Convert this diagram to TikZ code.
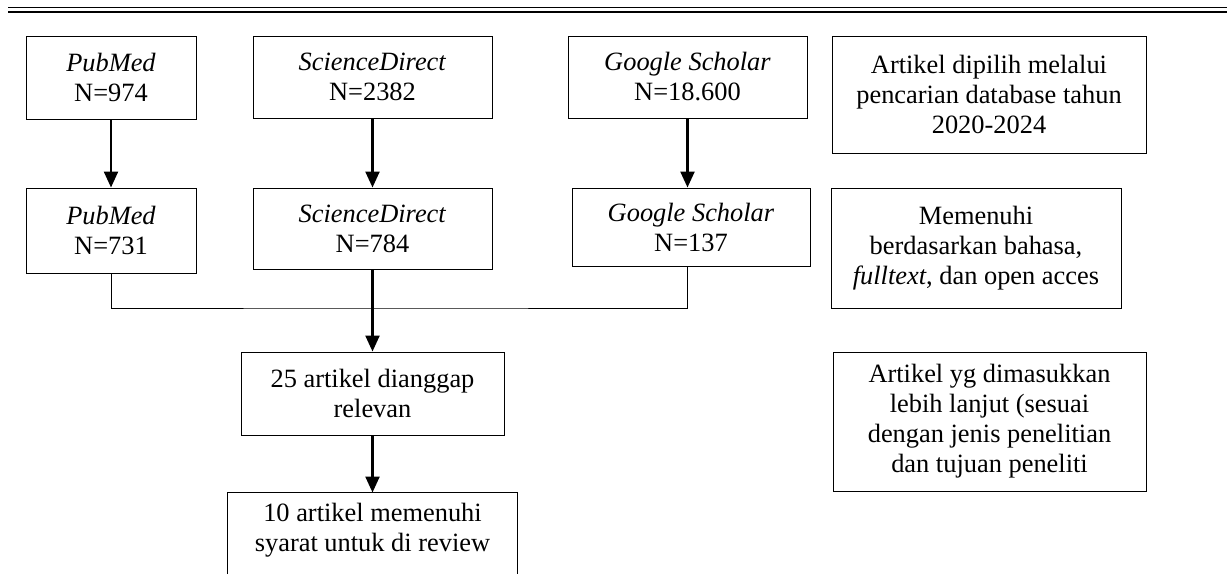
\documentclass[tikz,border=0pt]{standalone}
\usepackage{fontspec}
\setmainfont{Liberation Serif}
\usetikzlibrary{arrows.meta}
\begin{document}
\begin{tikzpicture}[x=0.5pt,y=-0.5pt,
  box/.style={draw,line width=0.5pt,align=center,inner sep=0pt,
    font=\fontsize{13.2}{15}\selectfont},
  arr/.style={line width=1.2pt,-{Triangle[width=7pt,length=8pt]}}]
\useasboundingbox (0,0) rectangle (1227,574);

\draw[line width=0.5pt] (8,7.5) -- (1227,7.5);
\draw[line width=1pt] (8,11.5) -- (1227,11.5);

\node[box,minimum width=85pt,minimum height=41.5pt] (pm1) at (111,77.5) {\textit{PubMed}\\N=974};
\node[box,minimum width=119.5pt,minimum height=41pt] (sd1) at (372.5,77) {\textit{ScienceDirect}\\N=2382};
\node[box,minimum width=119.5pt,minimum height=41pt] (gs1) at (687.5,77) {\textit{Google Scholar}\\N=18.600};
\node[box,minimum width=157pt,minimum height=58.5pt] (sel) at (989,94.5) {Artikel dipilih melalui\\pencarian database tahun\\2020-2024};

\node[box,minimum width=85pt,minimum height=42.5pt] (pm2) at (111,230.5) {\textit{PubMed}\\N=731};
\node[box,minimum width=119.5pt,minimum height=40.5pt] (sd2) at (372.5,228.5) {\textit{ScienceDirect}\\N=784};
\node[box,minimum width=119pt,minimum height=39pt] (gs2) at (691,227) {\textit{Google Scholar}\\N=137};
\node[box,minimum width=145pt,minimum height=60pt] (crit) at (976,248) {Memenuhi\\berdasarkan bahasa,\\\textit{fulltext}, dan open acces};

\node[box,minimum width=131.5pt,minimum height=41.5pt] (rel) at (372.5,393.5) {25 artikel dianggap\\relevan};
\node[box,minimum width=156.5pt,minimum height=69.5pt] (incl) at (989.5,421.5) {Artikel yg dimasukkan\\lebih lanjut (sesuai\\dengan jenis penelitian\\dan tujuan peneliti};

\node[box,draw=none,minimum width=144.5pt,minimum height=37pt] (rev) at (372.5,530) {10 artikel memenuhi\\syarat untuk di review};
\coordinate (cut) at (0,574);
\draw[line width=0.5pt] (rev.west |- cut) |- (rev.north) -| (rev.east |- cut);

% arrows
\draw[arr] (pm1.south) -- (pm2.north);
\draw[arr] (sd1.south) -- (sd2.north);
\draw[arr] (gs1.south) -- (gs1.south |- gs2.north);

\coordinate (join) at (372.5,308);
\draw[line width=0.5pt] (pm2.south) |- (join) -| (gs1.south |- gs2.south);
\draw[arr] (sd2.south) -- (rel.north);
\draw[arr] (rel.south) -- (rev.north);
\end{tikzpicture}
\end{document}
